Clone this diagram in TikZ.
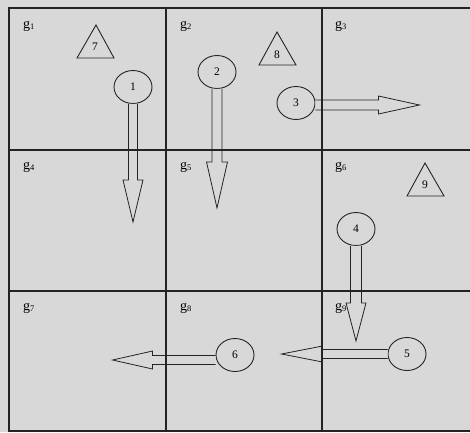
\documentclass[tikz,border=0pt]{standalone}
\usepackage{fontspec}
\setmainfont{Liberation Serif}
\usetikzlibrary{calc,shapes.geometric}
\definecolor{bg}{RGB}{216,216,216}
\definecolor{ink}{RGB}{35,35,35}
\tikzset{
  grid/.style={draw=ink,line width=1.5pt},
  agent/.style={draw=ink,line width=0.9pt,ellipse,minimum width=38pt,minimum height=33pt,inner sep=0pt,font=\fontsize{11.5}{11.5}\selectfont},
  goal/.style={draw=ink,line width=0.9pt,line join=miter},
  fat/.style={draw=ink,fill=bg,line width=0.8pt,line join=miter},
  glabel/.style={anchor=west,inner sep=0pt,font=\fontsize{14}{14}\selectfont},
  num/.style={inner sep=0pt,font=\fontsize{11.5}{11.5}\selectfont}
}
\newcommand\gl[1]{g\raisebox{-0.2ex}{\fontsize{8.5}{8.5}\selectfont #1}}
% #1 start, #2 tip, #3 shaft half width, #4 head half width, #5 head length
\newcommand\fatarrow[5]{%
  \coordinate (#2-h) at ($(#2)!#5!(#1)$);
  \draw[fat] ($(#1)!#3!90:(#2)$) -- ($(#2-h)!#3!90:(#2)$) -- ($(#2-h)!#4!90:(#2)$)
    -- (#2) -- ($(#2-h)!#4!-90:(#2)$) -- ($(#2-h)!#3!-90:(#2)$) -- ($(#1)!#3!-90:(#2)$);
}
\begin{document}
\begin{tikzpicture}[x=1pt,y=-1pt]
\useasboundingbox (0,0) rectangle (470,432);
\fill[bg] (0,0) rectangle (470,432);
% labels
\node[glabel] (g1) at (23,26) {\gl{1}};
\node[glabel] (g2) at (180,26) {\gl{2}};
\node[glabel] (g3) at (335,26) {\gl{3}};
\node[glabel] (g4) at (23,167) {\gl{4}};
\node[glabel] (g5) at (180,167) {\gl{5}};
\node[glabel] (g6) at (335,167) {\gl{6}};
\node[glabel] (g7) at (23,308) {\gl{7}};
\node[glabel] (g8) at (180,308) {\gl{8}};
\node[glabel] (g9) at (335,308) {\gl{9}};
% goals (triangles)
\draw[goal] (96,25) -- (114,58) -- (77,58) -- cycle;
\node[num] (t7) at (95,47) {7};
\draw[goal] (277,32) -- (296,65) -- (259,65) -- cycle;
\node[num] (t8) at (277,55) {8};
\draw[goal] (425,163) -- (444,196) -- (407,196) -- cycle;
\node[num] (t9) at (425,185) {9};
% agents
\node[agent] (c1) at (133,87) {1};
\node[agent] (c2) at (217,72) {2};
\node[agent] (c3) at (296,103) {3};
\node[agent] (c4) at (356,229) {4};
\node[agent] (c5) at (407,354) {5};
\node[agent] (c6) at (235,355) {6};
% arrow starts and tips
\coordinate (s1) at (c1.south);
\coordinate (s2) at (c2.south);
\coordinate (s3) at ($(c3.east)+(0,2)$);
\coordinate (s4) at (c4.south);
\coordinate (s5) at (c5.west);
\coordinate (s6) at ($(c6.west)+(0,5)$);
\coordinate (e1) at ($(s1)+(0,118)$);
\coordinate (e2) at ($(s2)+(0,119)$);
\coordinate (e3) at ($(s3)+(104,0)$);
\coordinate (e4) at ($(s4)+(0,95)$);
\coordinate (e5) at ($(s5)+(-106,0)$);
\coordinate (e6) at ($(s6)+(-103,0)$);
\fatarrow{s1}{e1}{4.5pt}{10pt}{42pt}
\fatarrow{s2}{e2}{5pt}{10.5pt}{46pt}
\fatarrow{s3}{e3}{5pt}{9pt}{41pt}
\fatarrow{s4}{e4}{5.5pt}{10pt}{38pt}
\fatarrow{s5}{e5}{4.5pt}{8pt}{41pt}
\fatarrow{s6}{e6}{4.5pt}{9pt}{40pt}
% grid (on top, showing through arrows)
\coordinate (tl) at (9,8);
\coordinate (bl) at (9,431);
\draw[grid] (475,8) -- (tl) -- (bl) -- (475,431);
\draw[grid] (166,8) -- (166,431);
\draw[grid] (322,8) -- (322,431);
\draw[grid] (9,150) -- (475,150);
\draw[grid] (9,291) -- (475,291);
\end{tikzpicture}
\end{document}
